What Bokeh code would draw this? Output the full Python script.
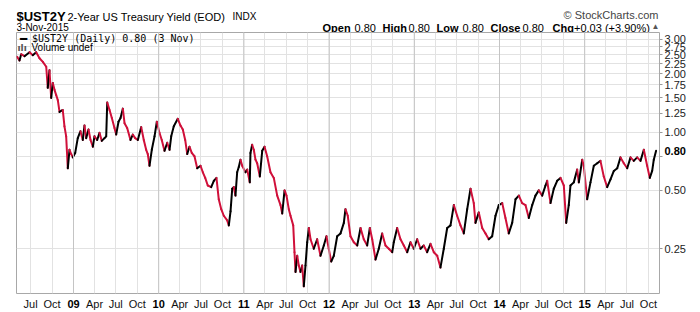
import numpy as np
from bokeh.plotting import figure
from bokeh.layouts import column
from bokeh.models import (ColumnDataSource, FixedTicker, PrintfTickFormatter, Label, Span,
                          LinearAxis, LogAxis)
from bokeh.embed import file_html
from bokeh.resources import INLINE

# ---------------- data ----------------
years = [
    2008.339, 2008.366, 2008.386, 2008.425, 2008.484, 2008.522, 2008.562, 2008.601, 2008.640, 2008.680,
    2008.698, 2008.718, 2008.738, 2008.757, 2008.777, 2008.797, 2008.816, 2008.836, 2008.874, 2008.894,
    2008.914, 2008.933, 2008.953, 2008.973, 2008.992, 2009.020, 2009.050, 2009.082, 2009.109, 2009.129,
    2009.149, 2009.176, 2009.200, 2009.227, 2009.246, 2009.278, 2009.305, 2009.332, 2009.364, 2009.384,
    2009.396, 2009.423, 2009.450, 2009.481, 2009.501, 2009.528, 2009.552, 2009.579, 2009.599, 2009.630,
    2009.669, 2009.696, 2009.724, 2009.755, 2009.795, 2009.825, 2009.853, 2009.872, 2009.892, 2009.919,
    2009.951, 2009.978, 2010.009, 2010.036, 2010.068, 2010.100, 2010.127, 2010.147, 2010.177, 2010.224,
    2010.256, 2010.283, 2010.311, 2010.335, 2010.361, 2010.388, 2010.420, 2010.452, 2010.491, 2010.518,
    2010.546, 2010.576, 2010.616, 2010.647, 2010.678, 2010.705, 2010.734, 2010.764, 2010.804, 2010.823,
    2010.843, 2010.863, 2010.881, 2010.901, 2010.921, 2010.940, 2010.960, 2010.980, 2011.019, 2011.039,
    2011.069, 2011.077, 2011.097, 2011.116, 2011.136, 2011.156, 2011.187, 2011.215, 2011.242, 2011.273,
    2011.312, 2011.351, 2011.391, 2011.430, 2011.450, 2011.477, 2011.500, 2011.527, 2011.547, 2011.579,
    2011.594, 2011.606, 2011.626, 2011.644, 2011.664, 2011.684, 2011.703, 2011.723, 2011.743, 2011.762,
    2011.782, 2011.820, 2011.860, 2011.899, 2011.938, 2011.969, 2011.996, 2012.025, 2012.055, 2012.095,
    2012.134, 2012.173, 2012.192, 2012.219, 2012.251, 2012.290, 2012.330, 2012.369, 2012.407, 2012.447,
    2012.478, 2012.506, 2012.545, 2012.583, 2012.623, 2012.662, 2012.701, 2012.741, 2012.759, 2012.799,
    2012.838, 2012.877, 2012.917, 2012.955, 2012.994, 2013.034, 2013.073, 2013.111, 2013.151, 2013.190,
    2013.229, 2013.269, 2013.307, 2013.346, 2013.386, 2013.425, 2013.464, 2013.503, 2013.542, 2013.581,
    2013.621, 2013.660, 2013.698, 2013.718, 2013.757, 2013.797, 2013.836, 2013.874, 2013.914, 2013.953,
    2013.992, 2014.032, 2014.070, 2014.109, 2014.149, 2014.188, 2014.227, 2014.266, 2014.305, 2014.344,
    2014.384, 2014.422, 2014.461, 2014.501, 2014.540, 2014.560, 2014.599, 2014.637, 2014.677, 2014.716,
    2014.755, 2014.783, 2014.813, 2014.833, 2014.872, 2014.912, 2014.931, 2014.971, 2014.989, 2015.029,
    2015.068, 2015.107, 2015.147, 2015.185, 2015.224, 2015.264, 2015.303, 2015.342, 2015.382, 2015.420,
    2015.459, 2015.499, 2015.538, 2015.576, 2015.616, 2015.655, 2015.694, 2015.733, 2015.764, 2015.792,
    2015.811, 2015.838,
]

yields = [
    2.44, 2.34, 2.52, 2.46, 2.58, 2.49, 2.58, 2.40, 2.30, 2.17,
    1.69, 2.08, 1.50, 1.79, 1.65, 1.55, 1.46, 1.27, 1.30, 1.07,
    0.95, 0.65, 0.81, 0.77, 0.74, 0.78, 0.93, 1.01, 0.91, 1.08,
    0.93, 1.03, 0.91, 0.84, 0.95, 0.91, 0.99, 0.90, 0.93, 0.95,
    1.42, 1.30, 1.18, 1.05, 0.97, 1.13, 1.18, 1.32, 1.11, 1.05,
    0.91, 0.97, 0.93, 0.91, 1.06, 0.91, 0.81, 0.77, 0.67, 0.81,
    0.95, 1.13, 0.99, 0.91, 0.80, 0.88, 0.81, 0.95, 1.07, 1.17,
    1.08, 1.03, 0.91, 0.77, 0.84, 0.78, 0.75, 0.65, 0.67, 0.62,
    0.58, 0.53, 0.52, 0.56, 0.58, 0.45, 0.40, 0.37, 0.35, 0.33,
    0.39, 0.51, 0.52, 0.47, 0.62, 0.66, 0.72, 0.67, 0.62, 0.64,
    0.55, 0.78, 0.86, 0.81, 0.72, 0.69, 0.59, 0.80, 0.84, 0.75,
    0.62, 0.58, 0.47, 0.42, 0.38, 0.50, 0.47, 0.40, 0.37, 0.33,
    0.24, 0.19, 0.23, 0.205, 0.19, 0.205, 0.16, 0.205, 0.27, 0.32,
    0.28, 0.25, 0.28, 0.23, 0.26, 0.29, 0.25, 0.215, 0.23, 0.29,
    0.30, 0.34, 0.40, 0.37, 0.29, 0.27, 0.26, 0.32, 0.28, 0.26,
    0.32, 0.28, 0.22, 0.25, 0.30, 0.26, 0.25, 0.24, 0.27, 0.32,
    0.28, 0.26, 0.24, 0.27, 0.25, 0.28, 0.25, 0.26, 0.24, 0.265,
    0.24, 0.23, 0.20, 0.25, 0.32, 0.33, 0.42, 0.37, 0.33, 0.30,
    0.40, 0.51, 0.43, 0.34, 0.385, 0.32, 0.30, 0.28, 0.29, 0.37,
    0.42, 0.43, 0.36, 0.30, 0.34, 0.45, 0.47, 0.43, 0.42, 0.36,
    0.42, 0.47, 0.50, 0.47, 0.53, 0.56, 0.43, 0.51, 0.56, 0.58,
    0.53, 0.34, 0.42, 0.53, 0.55, 0.64, 0.55, 0.72, 0.67, 0.45,
    0.55, 0.67, 0.69, 0.71, 0.59, 0.52, 0.57, 0.63, 0.65, 0.74,
    0.69, 0.65, 0.74, 0.71, 0.74, 0.71, 0.81, 0.67, 0.58, 0.63,
    0.72, 0.80,
]

tick_years = [2008, 2009, 2010, 2011, 2012, 2013, 2014, 2015]
quarter_months = ["Jan", "Apr", "Jul", "Oct"]
quarter_frac = [0.0, 0.2466, 0.4959, 0.7479]

y_ticks = [0.25, 0.50, 0.75, 1.00, 1.25, 1.50, 1.75, 2.00, 2.25, 2.50, 2.75, 3.00]

symbol = "$UST2Y"
name = "2-Year US Treasury Yield (EOD)"
exchange = "INDX"
date_str = "3-Nov-2015"
quote_labels = ["Open", "High", "Low", "Close", "Chg"]
quote_values = ["0.80", "0.80", "0.80", "0.80", "+0.03 (+3.90%)"]
legend_text = "$UST2Y (Daily) 0.80 (3 Nov)"

# layout constants (page pixels)
PAGE_W, PAGE_H = 700, 312
HEADER_H = 32
B_LEFT, B_RIGHT, B_BOTTOM = 16, 41, 17
F_RIGHT = PAGE_W - B_RIGHT
F_BOTTOM = PAGE_H - B_BOTTOM

# ---------------- header strip (texts; its frame is aligned with the chart frame) ----------------
h = figure(width=PAGE_W, height=HEADER_H, x_range=(B_LEFT, F_RIGHT), y_range=(HEADER_H, 0),
           x_axis_type=None, y_axis_type=None, output_backend="svg", toolbar_location=None,
           min_border=0, min_border_left=B_LEFT, min_border_right=B_RIGHT,
           min_border_top=0, min_border_bottom=0)
h.outline_line_color = None
h.background_fill_color = "white"
h.border_fill_color = "white"


def htxt(text, X, Y, size, bold=False, color="#000000", align="left", font="Liberation Sans"):
    h.add_layout(Label(x=X, y=Y, text=text, text_font=font, text_font_size=f"{size}px",
                       text_font_style="bold" if bold else "normal", text_color=color,
                       text_align=align, text_baseline="alphabetic"))


htxt(symbol, 16, 16, 13, bold=True)
htxt(name, 67, 16, 11)
htxt(exchange, 232, 16, 10)
htxt(date_str, 16, 27, 10)
htxt("\u00a9 StockCharts.com", 658, 14, 11, color="#444444", align="right")
q_x = [(322, 354), (382, 408), (436, 462), (490, 522), (552, 573.5)]
for (lx, vx), lab, val in zip(q_x, quote_labels, quote_values):
    htxt(lab, lx, 27, 11, bold=True)
    htxt(val, vx, 27, 11)
htxt("\u25b2", 651, 26, 8, color="#555555")

# ---------------- main chart ----------------
X_START, X_END = 2008.331, 2015.878
Y_START, Y_END = 0.147, 3.26

p = figure(width=PAGE_W, height=PAGE_H - HEADER_H, x_range=(X_START, X_END), y_range=(Y_START, Y_END),
           y_axis_type="log", y_axis_location="right",
           output_backend="svg", toolbar_location=None,
           min_border_left=B_LEFT, min_border_right=B_RIGHT, min_border_top=0,
           min_border_bottom=B_BOTTOM)
p.background_fill_color = "white"
p.border_fill_color = "white"
p.outline_line_color = "#a8a8a8"
p.outline_line_width = 1

tick_pos, tick_lab = [], []
for yr in tick_years:
    for m, f in zip(quarter_months, quarter_frac):
        pos = round(yr + f, 4)
        if X_START < pos < X_END:
            tick_pos.append(pos)
            tick_lab.append(f"{yr % 100:02d}" if m == "Jan" else m)
year_pos = [pp for pp, ll in zip(tick_pos, tick_lab) if ll.isdigit()]
year_lab = [ll for ll in tick_lab if ll.isdigit()]

xa = p.xaxis[0]
xa.ticker = FixedTicker(ticks=tick_pos)
xa.major_label_overrides = {pos: ("" if lab.isdigit() else lab) for pos, lab in zip(tick_pos, tick_lab)}
xa.axis_line_color = None
xa.major_tick_line_color = None
xa.major_tick_out = 0
xa.major_tick_in = 0
xa.minor_tick_line_color = None
xa.major_label_standoff = 4
xa.major_label_text_font = "Liberation Sans"
xa.major_label_text_font_size = "11px"
xa.major_label_text_color = "#111111"

# bold year labels: second bottom axis pulled up onto the first one's row
xb = LinearAxis(ticker=FixedTicker(ticks=year_pos),
                major_label_overrides={pos: lab for pos, lab in zip(year_pos, year_lab)},
                axis_line_color=None, major_tick_line_color=None, minor_tick_line_color=None,
                major_tick_out=0, major_tick_in=0, major_label_standoff=-13,
                major_label_text_font="Liberation Sans", major_label_text_font_size="11px",
                major_label_text_font_style="bold", major_label_text_color="#000000")
p.add_layout(xb, "below")

ya = p.yaxis[0]
ya.ticker = FixedTicker(ticks=y_ticks)
ya.formatter = PrintfTickFormatter(format="%.2f")
ya.major_label_overrides = {0.75: ""}
ya.axis_line_color = None
ya.major_tick_line_color = "#999999"
ya.major_tick_out = 3
ya.major_tick_in = 0
ya.minor_tick_line_color = None
ya.major_label_standoff = 2
ya.major_label_text_font = "Liberation Sans"
ya.major_label_text_font_size = "11px"
ya.major_label_text_color = "#222222"

# last-value tag: second right axis pulled left onto the first one's column
yb = LogAxis(ticker=FixedTicker(ticks=[yields[-1]]), formatter=PrintfTickFormatter(format="%.2f"),
             axis_line_color=None, major_tick_line_color=None, minor_tick_line_color=None,
             major_tick_out=0, major_tick_in=0, major_label_standoff=-24,
             major_label_text_font="Liberation Sans", major_label_text_font_size="11px",
             major_label_text_font_style="bold", major_label_text_color="#000000")
p.add_layout(yb, "right")

p.xgrid.grid_line_color = "#e2e2e2"
p.ygrid.grid_line_color = "#e2e2e2"

for pos in year_pos:
    p.add_layout(Span(location=pos, dimension="height", line_color="#c4c4c4", line_width=1))

# ---------------- data line (black = up, red = down) ----------------
x0, x1 = years[:-1], years[1:]
y0, y1 = yields[:-1], yields[1:]
colors = ["#000000" if b >= a else "#d0103a" for a, b in zip(y0, y1)]
src = ColumnDataSource(dict(x0=x0, y0=y0, x1=x1, y1=y1, color=colors))
p.segment("x0", "y0", "x1", "y1", source=src, line_color="color", line_width=2, line_cap="round")


# ---------------- in-frame legend texts ----------------
def txt(text, X, Y, size, bold=False, color="#000000", align="left", font="Liberation Sans"):
    p.add_layout(Label(x=X - B_LEFT, y=F_BOTTOM - Y, x_units="screen", y_units="screen", text=text,
                       text_font=font, text_font_size=f"{size}px",
                       text_font_style="bold" if bold else "normal",
                       text_color=color, text_align=align, text_baseline="alphabetic"))


txt("\u2501", 19.5, 40, 12, bold=True, font="DejaVu Sans Mono")
txt(legend_text, 31.5, 40, 10, font="DejaVu Sans Mono")
txt("\u0131l\u0131", 17, 49, 9, bold=True, color="#555555", font="DejaVu Sans")
txt("Volume undef", 31, 49, 10)

layout = column(h, p, spacing=0)
open("out.html", "w").write(file_html(layout, INLINE))
